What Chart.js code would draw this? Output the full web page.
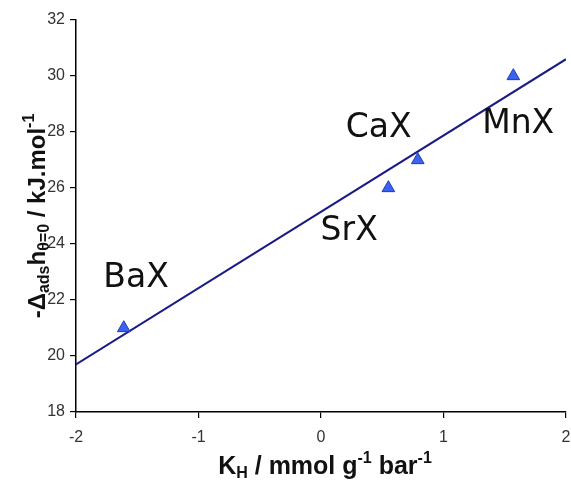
<!DOCTYPE html>
<html>
<head>
<meta charset="utf-8">
<script src="https://cdn.jsdelivr.net/npm/chart.js@4.4.1/dist/chart.umd.min.js"></script>
<style>
html,body{margin:0;padding:0;background:#fff;}
#wrap{width:571px;height:482px;position:relative;}
</style>
</head>
<body>
<div id="wrap"><canvas id="c" width="571" height="482"></canvas></div>
<script>
// ---- data ----
const sampleNames = ['BaX', 'SrX', 'CaX', 'MnX'];
const kH = [-1.61, 0.55, 0.79, 1.57];
const enthalpy = [21, 26, 27, 30];
const fitX = [-2, 2];
const fitY = [19.7, 30.6];
const xTicks = [-2, -1, 0, 1, 2];
const yTicks = [18, 20, 22, 24, 26, 28, 30, 32];
// annotation anchors (data coords: text centre x, baseline y)
const labelX = [-1.51, 0.23, 0.47, 1.61];
const labelY = [22.46, 24.14, 27.82, 27.96];

const FONT = '"Liberation Sans", Arial, sans-serif';

function drawRich(ctx, segs, x, y) {
  let total = 0;
  segs.forEach(s => { ctx.font = 'bold ' + s.size + 'px ' + FONT; s.w = ctx.measureText(s.t).width; total += s.w; });
  let cx = x - total / 2;
  ctx.textBaseline = 'alphabetic';
  ctx.textAlign = 'left';
  segs.forEach(s => {
    ctx.font = 'bold ' + s.size + 'px ' + FONT;
    ctx.fillText(s.t, cx, y + (s.dy || 0));
    cx += s.w;
  });
}

const decor = {
  id: 'decor',
  afterDatasetsDraw(chart) {
    const ctx = chart.ctx;
    const xs = chart.scales.x, ys = chart.scales.y;
    ctx.save();
    ctx.fillStyle = '#111';
    ctx.font = '33px "DejaVu Sans", Verdana, sans-serif';
    ctx.textAlign = 'center';
    ctx.textBaseline = 'alphabetic';
    sampleNames.forEach((n, i) => {
      ctx.fillText(n, xs.getPixelForValue(labelX[i]), ys.getPixelForValue(labelY[i]));
    });
    ctx.restore();

    ctx.save();
    ctx.fillStyle = '#111';
    // x title
    drawRich(ctx, [
      {t: 'K', size: 25},
      {t: 'H', size: 16, dy: 4},
      {t: ' / mmol g', size: 25},
      {t: '-1', size: 16, dy: -11},
      {t: ' bar', size: 25},
      {t: '-1', size: 16, dy: -11}
    ], (xs.left + xs.right) / 2 + 4, 474);
    // y title
    ctx.translate(45, (ys.top + ys.bottom) / 2);
    ctx.rotate(-Math.PI / 2);
    drawRich(ctx, [
      {t: '-Δ', size: 24},
      {t: 'ads', size: 16, dy: 4},
      {t: 'h', size: 24},
      {t: 'θ=0', size: 16, dy: 4},
      {t: ' / kJ.mol', size: 24},
      {t: '-1', size: 16, dy: -11}
    ], 0, 0);
    ctx.restore();
  }
};

new Chart(document.getElementById('c'), {
  type: 'scatter',
  data: {
    datasets: [
      {
        label: 'fit',
        data: fitX.map((x, i) => ({x: x, y: fitY[i]})),
        showLine: true,
        borderColor: '#1b1b86',
        borderWidth: 2,
        pointRadius: 0,
        fill: false,
        order: 2
      },
      {
        label: 'samples',
        data: kH.map((x, i) => ({x: x, y: enthalpy[i]})),
        pointStyle: 'triangle',
        pointRadius: 7.3,
        backgroundColor: '#3a63f2',
        borderColor: '#1d3bb8',
        borderWidth: 1,
        order: 1
      }
    ]
  },
  options: {
    responsive: false,
    animation: false,
    devicePixelRatio: 1,
    layout: {autoPadding: false, padding: {left: 0, right: 5, top: 20, bottom: 0}},
    plugins: {legend: {display: false}, tooltip: {enabled: false}},
    scales: {
      x: {
        type: 'linear',
        min: -2, max: 2,
        afterBuildTicks: s => { s.ticks = xTicks.map(v => ({value: v})); },
        afterFit: s => { s.height = 70; s.paddingLeft = 0; s.paddingRight = 0; },
        grid: {drawOnChartArea: false, drawTicks: true, tickLength: 6, color: '#000', lineWidth: 1.2},
        border: {color: '#000', width: 1.5},
        ticks: {color: '#333', font: {family: FONT, size: 16}, padding: 10, maxRotation: 0}
      },
      y: {
        type: 'linear',
        min: 18, max: 32,
        afterBuildTicks: s => { s.ticks = yTicks.map(v => ({value: v})); },
        afterFit: s => { s.width = 76; s.paddingTop = 0; s.paddingBottom = 0; },
        grid: {drawOnChartArea: false, drawTicks: true, tickLength: 6, color: '#000', lineWidth: 1.2},
        border: {color: '#000', width: 1.5},
        ticks: {color: '#333', font: {family: FONT, size: 16}, padding: 5}
      }
    }
  },
  plugins: [decor]
});
</script>
</body>
</html>
